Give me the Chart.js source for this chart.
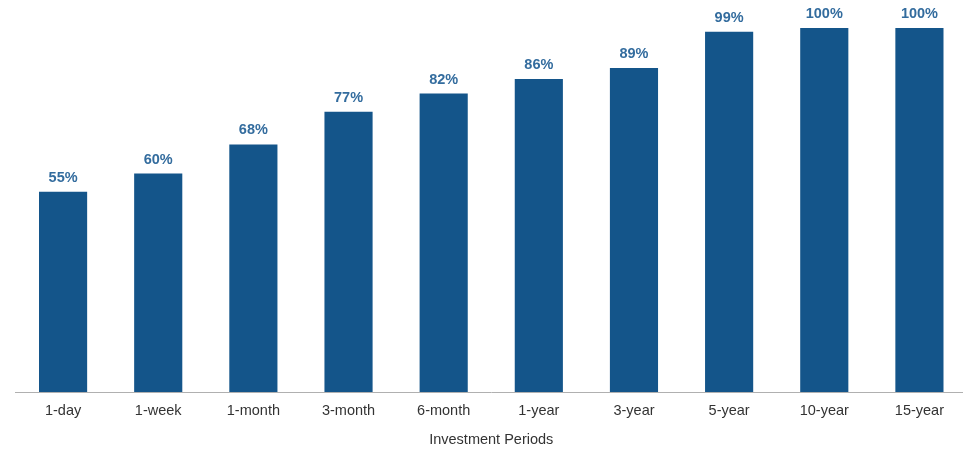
<!DOCTYPE html>
<html>
<head>
<meta charset="utf-8">
<script src="https://cdn.jsdelivr.net/npm/chart.js@4/dist/chart.umd.min.js"></script>
<style>
  html, body { margin: 0; padding: 0; background: #fff; overflow: hidden; }
  #wrap { width: 967px; height: 449px; }
</style>
</head>
<body>
<div id="wrap"><canvas id="periodChart"></canvas></div>
<script>
const periods = ['1-day', '1-week', '1-month', '3-month', '6-month', '1-year', '3-year', '5-year', '10-year', '15-year'];
const positivePct = [55, 60, 68, 77, 82, 86, 89, 99, 100, 100];
const axisTitle = 'Investment Periods';

const BAR_COLOR = '#14558A';
const LABEL_COLOR = '#336C9E';
const TEXT_COLOR = '#333333';
const FONT = "'Liberation Sans', Arial, sans-serif";

// percentage labels above each bar
const valueLabels = {
  id: 'valueLabels',
  afterDatasetsDraw(chart) {
    const { ctx } = chart;
    const meta = chart.getDatasetMeta(0);
    ctx.save();
    ctx.font = `bold 14.5px ${FONT}`;
    ctx.fillStyle = LABEL_COLOR;
    ctx.textAlign = 'center';
    ctx.textBaseline = 'middle';
    meta.data.forEach((bar, i) => {
      ctx.fillText(positivePct[i] + '%', bar.x, bar.y - 14);
    });
    ctx.restore();
  }
};

new Chart(document.getElementById('periodChart'), {
  type: 'bar',
  data: {
    labels: periods,
    datasets: [{
      data: positivePct,
      backgroundColor: BAR_COLOR,
      borderWidth: 0,
      categoryPercentage: 1,
      barPercentage: 0.506
    }]
  },
  options: {
    responsive: true,
    maintainAspectRatio: false,
    animation: false,
    layout: { padding: { top: 28, bottom: 0, left: 0, right: 0 } },
    plugins: {
      legend: { display: false },
      tooltip: { enabled: false }
    },
    scales: {
      x: {
        grid: { display: false, drawTicks: false },
        border: { display: true, color: '#B0B0B0', width: 1 },
        ticks: {
          padding: 10,
          color: TEXT_COLOR,
          font: { family: FONT, size: 14.5 },
          maxRotation: 0,
          autoSkip: false
        },
        title: {
          display: true,
          text: axisTitle,
          color: TEXT_COLOR,
          font: { family: FONT, size: 14.5 },
          padding: { top: 0, bottom: 0 }
        },
        afterFit: (scale) => { scale.height = 57; }
      },
      y: {
        display: false,
        min: 0,
        max: 100,
        afterFit: (scale) => { scale.width = 15.5; }
      }
    }
  },
  plugins: [valueLabels]
});
</script>
</body>
</html>
